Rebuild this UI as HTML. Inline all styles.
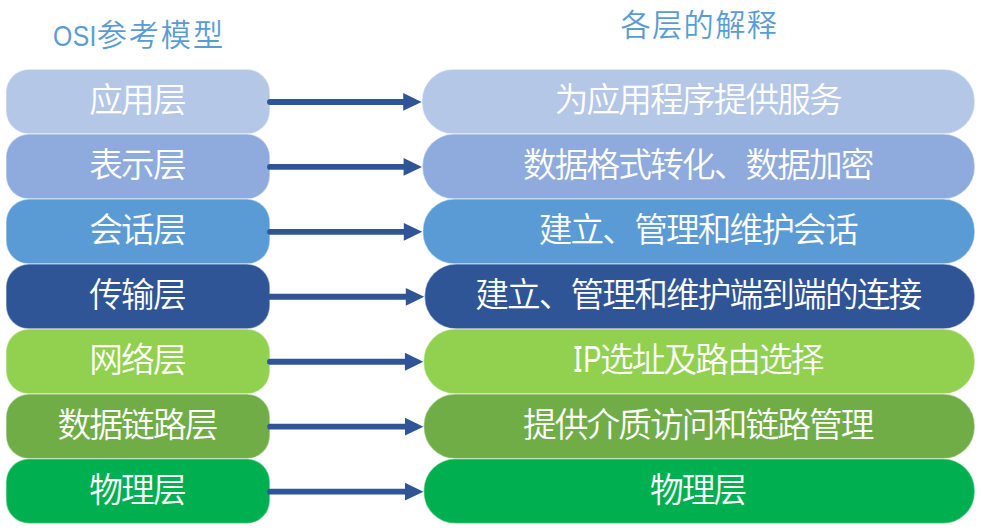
<!DOCTYPE html>
<html lang="zh-CN">
<head>
<meta charset="utf-8">
<title>OSI参考模型</title>
<style>
html,body{margin:0;padding:0;background:#fff;}
body{width:982px;height:532px;overflow:hidden;position:relative;font-family:"Liberation Sans","Noto Sans CJK SC",sans-serif;}
svg{position:absolute;left:0;top:0;display:block;}
.t{position:absolute;height:65px;line-height:62px;font-size:33.7px;letter-spacing:-1.9px;font-weight:350;color:#fff;text-align:center;white-space:nowrap;}
.t span{margin-right:1.9px;}
.h{position:absolute;font-size:30.2px;letter-spacing:1.4px;font-weight:350;color:#5B9BD5;white-space:nowrap;line-height:40px;height:40px;}
.h .la{display:inline-block;letter-spacing:0.5px;font-size:29.8px;transform:scaleX(.83);transform-origin:0 50%;margin-right:-9.6px;}
.t .la{display:inline-block;position:relative;width:27px;height:40px;line-height:40px;vertical-align:top;margin-top:11px;margin-right:0;letter-spacing:2.3px;text-indent:1.3px;font-size:36px;font-weight:400;text-align:left;transform:scaleX(.76);transform-origin:0 50%;}
.t .la::before,.t .la::after{content:"";position:absolute;left:1.65px;width:9.3px;height:2.6px;background:#fff;}
.t .la::before{top:6.2px;}
.t .la::after{top:29.2px;}
</style>
</head>
<body>
<svg width="982" height="532" viewBox="0 0 982 532">
<rect x="6.0" y="69.15" width="263.90" height="64.95" rx="23" ry="23" fill="#B4C7E7" stroke="#fff" stroke-opacity="0.42" stroke-width="1.5"/>
<rect x="421.9" y="69.15" width="552.90" height="64.95" rx="31.5" ry="31.5" fill="#B4C7E7" stroke="#fff" stroke-opacity="0.42" stroke-width="1.5"/>
<path d="M270 98.97H403.20V93.02L421.60 101.92L403.20 110.83V104.88H270A2.95 2.95 0 0 1 270 98.97Z" fill="#2F5597"/>
<rect x="6.0" y="134.10" width="263.90" height="64.95" rx="23" ry="23" fill="#8FAADC" stroke="#fff" stroke-opacity="0.42" stroke-width="1.5"/>
<rect x="422.4" y="134.10" width="552.40" height="64.95" rx="31.5" ry="31.5" fill="#8FAADC" stroke="#fff" stroke-opacity="0.42" stroke-width="1.5"/>
<path d="M270 163.93H403.60V157.98L422.00 166.88L403.60 175.78V169.83H270A2.95 2.95 0 0 1 270 163.93Z" fill="#2F5597"/>
<rect x="6.0" y="199.05" width="263.90" height="64.95" rx="23" ry="23" fill="#5B9BD5" stroke="#fff" stroke-opacity="0.42" stroke-width="1.5"/>
<rect x="422.8" y="199.05" width="552.00" height="64.95" rx="31.5" ry="31.5" fill="#5B9BD5" stroke="#fff" stroke-opacity="0.42" stroke-width="1.5"/>
<path d="M270 228.88H403.80V222.93L422.20 231.83L403.80 240.73V234.78H270A2.95 2.95 0 0 1 270 228.88Z" fill="#2F5597"/>
<rect x="6.0" y="264.00" width="263.90" height="64.95" rx="23" ry="23" fill="#2F5597" stroke="#fff" stroke-opacity="0.42" stroke-width="1.5"/>
<rect x="424.6" y="264.00" width="550.20" height="64.95" rx="31.5" ry="31.5" fill="#2F5597" stroke="#fff" stroke-opacity="0.42" stroke-width="1.5"/>
<path d="M270 293.83H405.80V287.88L424.20 296.78L405.80 305.68V299.73H270A2.95 2.95 0 0 1 270 293.83Z" fill="#2F5597"/>
<rect x="6.0" y="328.95" width="263.90" height="64.95" rx="23" ry="23" fill="#92D050" stroke="#fff" stroke-opacity="0.42" stroke-width="1.5"/>
<rect x="423.6" y="328.95" width="551.20" height="64.95" rx="31.5" ry="31.5" fill="#92D050" stroke="#fff" stroke-opacity="0.42" stroke-width="1.5"/>
<path d="M270 358.78H404.90V352.83L423.30 361.73L404.90 370.63V364.68H270A2.95 2.95 0 0 1 270 358.78Z" fill="#2F5597"/>
<rect x="6.0" y="393.90" width="263.90" height="64.95" rx="23" ry="23" fill="#70AD47" stroke="#fff" stroke-opacity="0.42" stroke-width="1.5"/>
<rect x="423.7" y="393.90" width="551.10" height="64.95" rx="31.5" ry="31.5" fill="#70AD47" stroke="#fff" stroke-opacity="0.42" stroke-width="1.5"/>
<path d="M270 423.73H405.00V417.78L423.40 426.68L405.00 435.57V429.62H270A2.95 2.95 0 0 1 270 423.73Z" fill="#2F5597"/>
<rect x="6.0" y="458.85" width="263.90" height="64.75" rx="23" ry="23" fill="#00B050" stroke="#fff" stroke-opacity="0.42" stroke-width="1.5"/>
<rect x="423.7" y="458.85" width="551.10" height="64.75" rx="31.5" ry="31.5" fill="#00B050" stroke="#fff" stroke-opacity="0.42" stroke-width="1.5"/>
<path d="M270 488.68H405.00V482.73L423.40 491.63L405.00 500.53V494.58H270A2.95 2.95 0 0 1 270 488.68Z" fill="#2F5597"/>
</svg>
<div class="h" id="h0" style="left:53.4px;top:16.2px;letter-spacing:1.9px"><span class="la">OSI</span>参考模型</div>
<div class="h" id="h1" style="left:620.4px;top:6.2px">各层的解释</div>
<div class="t" id="l0" style="top:69px;left:6.0px;width:263.90px"><span>应用层</span></div>
<div class="t" id="r0" style="top:69px;left:422.7px;width:552px"><span>为应用程序提供服务</span></div>
<div class="t" id="l1" style="top:134px;left:6.0px;width:263.90px"><span>表示层</span></div>
<div class="t" id="r1" style="top:134px;left:422.7px;width:552px"><span>数据格式转化、数据加密</span></div>
<div class="t" id="l2" style="top:199px;left:6.0px;width:263.90px"><span>会话层</span></div>
<div class="t" id="r2" style="top:199px;left:422.7px;width:552px"><span>建立、管理和维护会话</span></div>
<div class="t" id="l3" style="top:264px;left:6.0px;width:263.90px"><span>传输层</span></div>
<div class="t" id="r3" style="top:264px;left:422.7px;width:552px"><span>建立、管理和维护端到端的连接</span></div>
<div class="t" id="l4" style="top:329px;left:6.0px;width:263.90px"><span>网络层</span></div>
<div class="t" id="r4" style="top:329px;left:422.7px;width:552px"><span><span class="la">IP</span>选址及路由选择</span></div>
<div class="t" id="l5" style="top:394px;left:6.0px;width:263.90px"><span>数据链路层</span></div>
<div class="t" id="r5" style="top:394px;left:422.7px;width:552px"><span>提供介质访问和链路管理</span></div>
<div class="t" id="l6" style="top:459px;left:6.0px;width:263.90px"><span>物理层</span></div>
<div class="t" id="r6" style="top:459px;left:422.7px;width:552px"><span>物理层</span></div>
</body>
</html>
